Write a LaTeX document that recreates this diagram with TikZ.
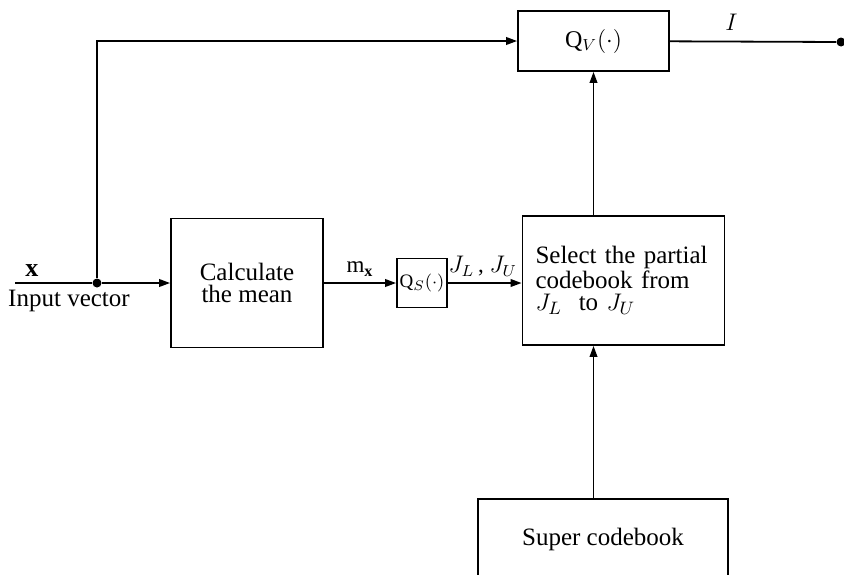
\documentclass[tikz,border=0pt]{standalone}
\usepackage{amsmath}
\usepackage{fontspec}
\setmainfont{Liberation Serif}
\usetikzlibrary{arrows.meta,positioning}
\tikzset{
  flow/.style={-{Triangle[length=5.5pt,width=3.8pt]}, line width=0.9pt},
  wire/.style={line width=0.9pt},
  block box/.style={draw, line width=0.9pt, align=center, inner sep=2pt},
  quant box/.style={draw, line width=0.9pt, inner sep=0.5pt,
    font=\fontsize{9.5}{10}\selectfont},
  tap/.style={circle, fill, inner sep=0pt, minimum size=4.5pt},
  edge label/.style={font=\fontsize{11.5}{12}\selectfont, inner sep=3pt}
}

\begin{document}
\begin{tikzpicture}[x=0.5pt, y=-0.5pt, font=\fontsize{12.5}{11}\selectfont]
  \useasboundingbox (0,0) rectangle (844,574);
  \clip (0,0) rectangle (844,574);
  % blocks
  \node[block box, minimum width=76pt, minimum height=64.5pt] (calc) at (247,283)
    {Calculate\\the mean};
  \node[quant box, minimum width=25pt, minimum height=24.5pt] (qs) at (422,283)
    {Q$_S(\cdot)$};
  \node[block box, align=left, text width=88pt, inner xsep=6.5pt,
    minimum height=64.5pt] (sel) at (623.5,280.5)
    {Select the partial\\codebook from\\$J_L$\ \ to $J_U$};
  \node[quant box, font=\fontsize{12}{12}\selectfont, minimum width=75.5pt,
    minimum height=30pt] (qv) at (593.5,41) {Q$_V(\cdot)$};
  \node[block box, minimum width=125pt, minimum height=40.5pt] (super) at (603,539.5)
    {Super codebook};
  % taps and ends
  \node[tap] (split) at (97,283) {};
  \node[tap] (out) at (841,42) {};
  \coordinate (in) at (15,283);
  % connectors
  \draw[wire] (in) -- node[edge label, above, pos=0.22, font=\fontsize{13}{13}\selectfont] {$\mathbf{x}$}
    node[below, pos=0.7] {Input vector} (split);
  \draw[flow] (split) -- (calc);
  \draw[flow] (split) |- (qv);
  \draw[flow] (calc) -- node[edge label, above] {m$_{\mathbf{x}}$} (qs);
  \draw[flow] (qs.east) -- node[edge label, above, xshift=-1pt] {$J_L$\,, $J_U$} (qs.east -| sel.west);
  \draw[flow] (sel.north -| qv.south) -- (qv.south);
  \draw[flow] (super.north -| qv.south) -- (sel.south -| qv.south);
  \draw[wire] (qv) -- node[edge label, above, pos=0.37, yshift=2pt] {$I$} (out);
\end{tikzpicture}
\end{document}
